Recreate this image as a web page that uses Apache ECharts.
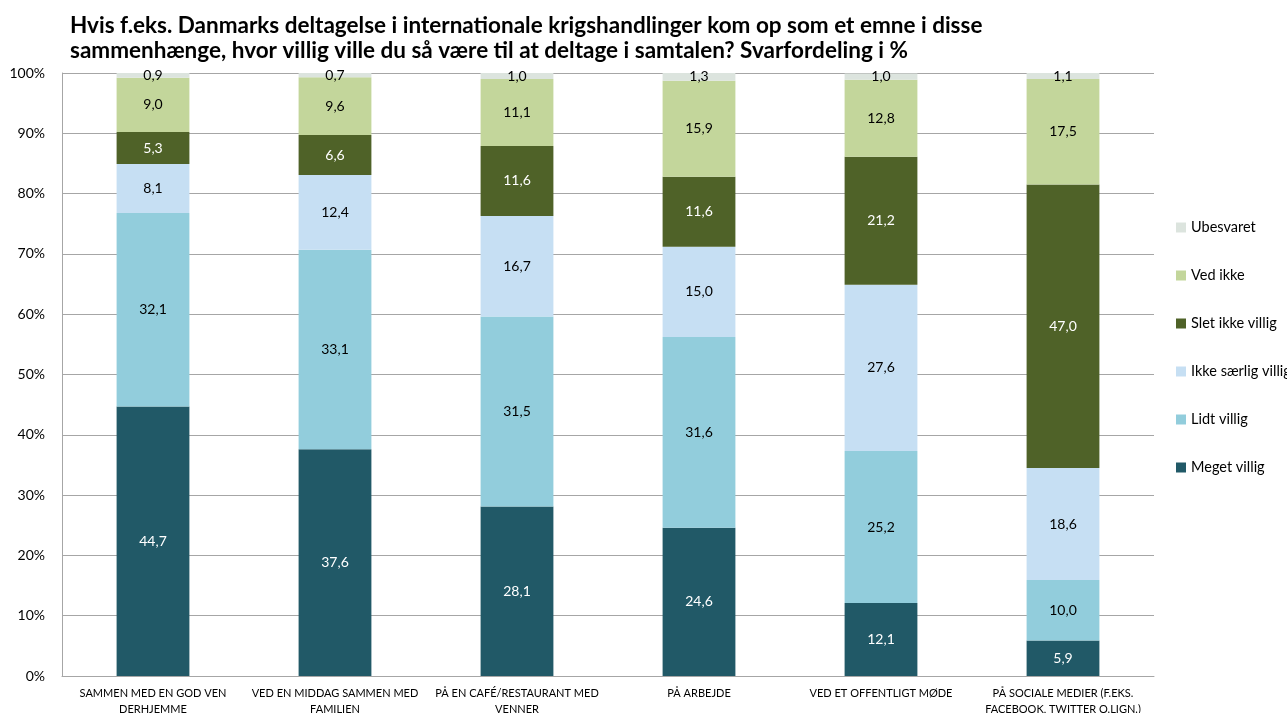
<!DOCTYPE html>
<html>
<head>
<meta charset="utf-8">
<script src="https://cdn.jsdelivr.net/npm/echarts@6/dist/echarts.min.js"></script>
<style>
html, body { margin: 0; padding: 0; background: #fff; }
#chart { width: 1287px; height: 713px; }
</style>
</head>
<body>
<div id="chart"></div>
<script>
const categories = [
  'SAMMEN MED EN GOD VEN\nDERHJEMME',
  'VED EN MIDDAG SAMMEN MED\nFAMILIEN',
  'PÅ EN CAFÉ/RESTAURANT MED\nVENNER',
  'PÅ ARBEJDE',
  'VED ET OFFENTLIGT MØDE',
  'PÅ SOCIALE MEDIER (F.EKS.\nFACEBOOK, TWITTER O.LIGN.)'
]
const megetVillig = [44.7, 37.6, 28.1, 24.6, 12.1, 5.9]
const lidtVillig = [32.1, 33.1, 31.5, 31.6, 25.2, 10.0]
const ikkeSaerligVillig = [8.1, 12.4, 16.7, 15.0, 27.6, 18.6]
const sletIkkeVillig = [5.3, 6.6, 11.6, 11.6, 21.2, 47.0]
const vedIkke = [9.0, 9.6, 11.1, 15.9, 12.8, 17.5]
const ubesvaret = [0.9, 0.7, 1.0, 1.3, 1.0, 1.1]

const font = 'Lato, "Noto Sans", sans-serif'

function mkSeries(name, data, color, labelColor) {
  return {
    name: name,
    type: 'bar',
    stack: 'total',
    barWidth: '40%',
    data: data,
    itemStyle: { color: color },
    label: {
      show: true,
      position: 'inside',
      color: labelColor,
      fontSize: 14,
      fontFamily: font,
      formatter: p => p.value.toFixed(1).replace('.', ',')
    }
  }
}

const myChart = echarts.init(document.getElementById('chart'))
myChart.setOption({
  animation: false,
  title: {
    text: 'Hvis f.eks. Danmarks deltagelse i internationale krigshandlinger kom op som et emne i disse\nsammenhænge, hvor villig ville du så være til at deltage i samtalen? Svarfordeling i %',
    left: 65,
    top: 8,
    textStyle: {
      fontSize: 22.5,
      fontWeight: 'bold',
      fontFamily: font,
      color: '#000',
      lineHeight: 25
    }
  },
  grid: {
    left: 62,
    right: 133,
    top: 73,
    bottom: 37,
    containLabel: false,
    outerBoundsMode: 'none'
  },
  legend: {
    orient: 'vertical',
    left: 1171,
    top: 215,
    itemWidth: 10,
    itemHeight: 10,
    itemGap: 33,
    icon: 'rect',
    textStyle: { fontSize: 14.5, fontFamily: font, color: '#000' },
    data: ['Ubesvaret', 'Ved ikke', 'Slet ikke villig', 'Ikke særlig villig', 'Lidt villig', 'Meget villig']
  },
  xAxis: {
    type: 'category',
    data: categories,
    axisTick: { show: false },
    axisLine: { lineStyle: { color: '#a6a6a6' } },
    axisLabel: {
      interval: 0,
      fontSize: 11,
      fontFamily: font,
      color: '#000',
      lineHeight: 16,
      margin: 9
    }
  },
  yAxis: {
    type: 'value',
    min: 0,
    max: 100,
    interval: 10,
    axisLine: { show: true, lineStyle: { color: '#a6a6a6' } },
    axisTick: { show: false },
    axisLabel: {
      formatter: '{value}%',
      fontSize: 14,
      fontFamily: font,
      color: '#000',
      margin: 17
    },
    splitLine: { lineStyle: { color: '#a6a6a6' } }
  },
  series: [
    mkSeries('Meget villig', megetVillig, '#215967', '#fff'),
    mkSeries('Lidt villig', lidtVillig, '#92CDDC', '#000'),
    mkSeries('Ikke særlig villig', ikkeSaerligVillig, '#C6DFF3', '#000'),
    mkSeries('Slet ikke villig', sletIkkeVillig, '#4F6228', '#fff'),
    mkSeries('Ved ikke', vedIkke, '#C3D69B', '#000'),
    mkSeries('Ubesvaret', ubesvaret, '#DCE4DE', '#000')
  ]
})
</script>
</body>
</html>
